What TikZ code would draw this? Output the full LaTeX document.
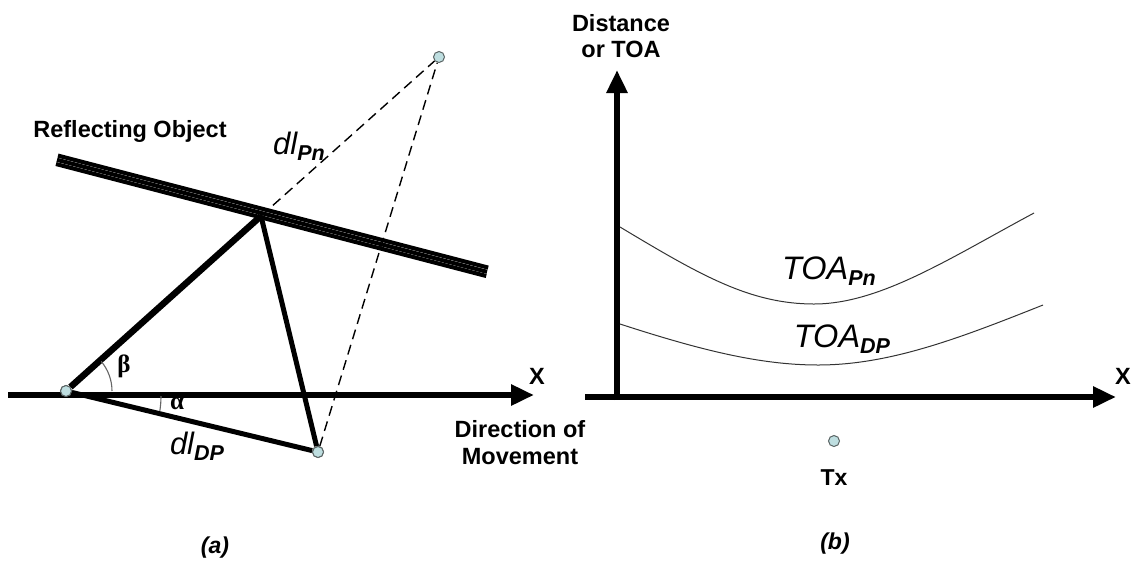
\documentclass[tikz,border=0pt]{standalone}
\usepackage{fontspec}
\setmainfont{Liberation Sans}
\newfontfamily\grk{Liberation Serif}
\usetikzlibrary{arrows.meta}
\definecolor{ptfill}{RGB}{190,222,224}
\definecolor{ptline}{RGB}{90,100,100}
\tikzset{
  pt/.style={circle,inner sep=0pt,minimum size=11pt,draw=ptline,line width=1pt,fill=ptfill},
  thickln/.style={line width=5pt},
  dashln/.style={line width=1.4pt,dash pattern=on 10pt off 6pt},
  axisln/.style={line width=6pt,-{Triangle[length=23pt,width=20pt]}},
  wallln/.style={line width=4.1pt,line cap=butt},
  lbl/.style={font=\bfseries\fontsize{23.5}{27}\selectfont,inner sep=0pt},
  curve/.style={line width=1pt,black!80},
  anglearc/.style={line width=1.1pt,black!60},
}
\begin{document}
\begin{tikzpicture}[x=1pt,y=-1pt]
\useasboundingbox (0,0) rectangle (1134,563);
% ---------- panel (a) ----------
\coordinate (axL0) at (8,395);
\coordinate (axL1) at (534,395);
\draw[axisln] (axL0) -- (axL1);
% reflecting object
\draw[wallln] (58.0,155.6) -- (488.2,267.6);
\draw[wallln] (57.0,159.8) -- (487.0,271.8);
\draw[wallln] (56.0,164.0) -- (486.2,276.0);
% points
\coordinate (rp) at (261,216);
\node[pt] (tp) at (439,57) {};
\node[pt] (lp) at (318,452) {};
% dashed paths
\draw[dashln] (rp) -- (tp);
\draw[dashln] (lp) -- (tp);
% solid paths
\node[pt] (rx) at (66,391) {};
\draw[line width=6.5pt] (rx) -- (rp);
\draw[thickln] (rp) -- (lp);
\draw[thickln] (rx) -- (lp);
\node[pt] at (rx) {};
\node[pt] at (lp) {};
% angles
\draw[anglearc] (112,391) arc[start angle=0,end angle=-40,radius=46];
\draw[anglearc] (161,396) arc[start angle=0,end angle=9,radius=95];
\node[inner sep=0pt,font=\grk\bfseries\fontsize{25}{25}\selectfont] (beta) at (124,366) {β};
\node[inner sep=0pt,font=\grk\bfseries\fontsize{25}{25}\selectfont] (alpha) at (177,404) {α};
% labels
\node[lbl] (refl) at (130,131) {Reflecting Object};
\node[inner sep=0pt] (dlpn) at (299,146) {\fontsize{31}{31}\selectfont\itshape dl\raisebox{-6pt}{\fontsize{21.5}{21.5}\selectfont\bfseries Pn}};
\node[inner sep=0pt] (dldp) at (197,446) {\fontsize{31}{31}\selectfont\itshape dl\raisebox{-6pt}{\fontsize{21.5}{21.5}\selectfont\bfseries DP}};
\node[lbl] (xa) at (537,376) {X};
\node[lbl,align=center,font=\bfseries\fontsize{23.5}{27}\selectfont] (dir) at (520,443) {Direction of\\Movement};
\node[lbl,font=\bfseries\itshape\fontsize{23}{23}\selectfont] (capa) at (215,548) {(a)};
% ---------- panel (b) ----------
\coordinate (ay0) at (617,400);
\coordinate (ay1) at (617,70);
\coordinate (ax0) at (585,397);
\coordinate (ax1) at (1116,397);
\draw[axisln] (ay0) -- (ay1);
\draw[axisln] (ax0) -- (ax1);
\node[lbl,align=center,font=\bfseries\fontsize{23.5}{26}\selectfont] (ylab) at (621,36) {Distance\\or TOA};
\node[lbl] (xb) at (1123,376) {X};
% curves
\coordinate (c1a) at (620,227);
\coordinate (c1m) at (814,304);
\coordinate (c1b) at (1034,213);
\coordinate (c2a) at (620,324);
\coordinate (c2m) at (818,365);
\coordinate (c2b) at (1043,305);
\draw[curve] (c1a) .. controls (700,275) and (750,304) .. (c1m)
  .. controls (880,304) and (950,258) .. (c1b);
\draw[curve] (c2a) .. controls (700,350) and (760,365) .. (c2m)
  .. controls (890,365) and (960,338) .. (c2b);
\node[inner sep=0pt] (toapn) at (829,271) {\fontsize{32.5}{32.5}\selectfont\itshape TOA\raisebox{-6.5pt}{\fontsize{21.5}{21.5}\selectfont\bfseries Pn}};
\node[inner sep=0pt] (toadp) at (842,339) {\fontsize{32.5}{32.5}\selectfont\itshape TOA\raisebox{-6.5pt}{\fontsize{21.5}{21.5}\selectfont\bfseries DP}};
\node[pt] (tx) at (834,441) {};
\node[lbl,font=\bfseries\fontsize{23}{23}\selectfont] (txl) at (834,478) {Tx};
\node[lbl,font=\bfseries\itshape\fontsize{23}{23}\selectfont] (capb) at (835,544) {(b)};
\end{tikzpicture}
\end{document}
